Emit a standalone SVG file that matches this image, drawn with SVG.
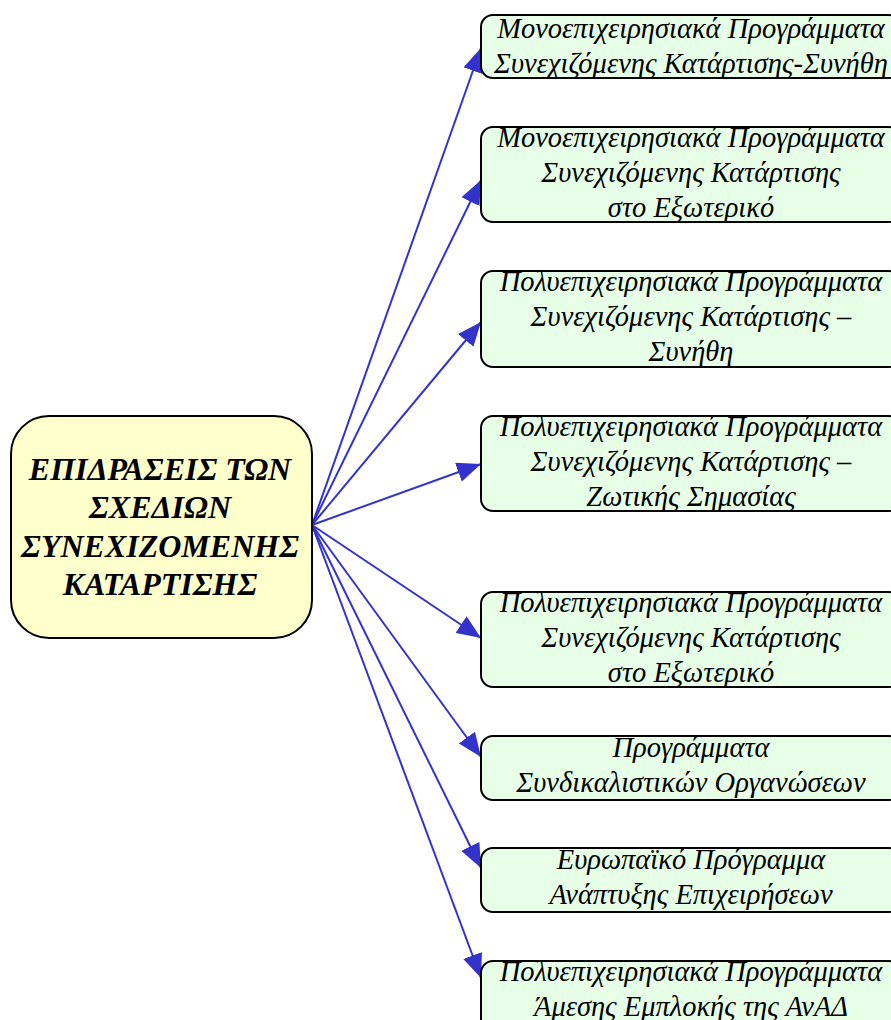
<svg xmlns="http://www.w3.org/2000/svg" width="891" height="1020" viewBox="0 0 891 1020">
<style>
.box{fill:#e6ffe6;stroke:#000;stroke-width:2}
.root{fill:#ffffcc;stroke:#000;stroke-width:2}
.t{font-family:"Liberation Serif","DejaVu Serif",serif;font-style:italic;font-size:28.5px;fill:#000;text-anchor:middle}
.rt{font-family:"Liberation Serif","DejaVu Serif",serif;font-style:italic;font-weight:bold;font-size:32px;fill:#000;text-anchor:middle}
.c{stroke:#3333cc;stroke-width:2;fill:none;marker-end:url(#ah)}
</style>
<defs>
<marker id="ah" markerWidth="24" markerHeight="20" refX="24" refY="10" orient="auto" markerUnits="userSpaceOnUse">
<path d="M0,0 L24,10 L0,20 z" fill="#3333cc"/>
</marker>
</defs>
<g id="connectors">
<line class="c" x1="312" y1="525" x2="481" y2="48"/>
<line class="c" x1="312" y1="525" x2="481" y2="180"/>
<line class="c" x1="312" y1="525" x2="481" y2="322"/>
<line class="c" x1="312" y1="525" x2="481" y2="464"/>
<line class="c" x1="312" y1="525" x2="481" y2="638"/>
<line class="c" x1="312" y1="525" x2="481" y2="757"/>
<line class="c" x1="312" y1="525" x2="481" y2="868"/>
<line class="c" x1="312" y1="525" x2="481" y2="978"/>
</g>
<g id="root">
<rect class="root" x="11" y="416" width="301" height="222" rx="38"/>
<text class="rt" x="160" y="480">ΕΠΙΔΡΑΣΕΙΣ ΤΩΝ</text>
<text class="rt" x="160" y="518">ΣΧΕΔΙΩΝ</text>
<text class="rt" x="160" y="557">ΣΥΝΕΧΙΖΟΜΕΝΗΣ</text>
<text class="rt" x="160" y="595">ΚΑΤΑΡΤΙΣΗΣ</text>
</g>
<g id="n1">
<rect class="box" x="481" y="15" width="420" height="63" rx="12"/>
<text class="t" x="691" y="38">Μονοεπιχειρησιακά Προγράμματα</text>
<text class="t" x="691" y="73">Συνεχιζόμενης Κατάρτισης-Συνήθη</text>
</g>
<g id="n2">
<rect class="box" x="481" y="127" width="420" height="95" rx="12"/>
<text class="t" x="691" y="147">Μονοεπιχειρησιακά Προγράμματα</text>
<text class="t" x="691" y="182">Συνεχιζόμενης Κατάρτισης</text>
<text class="t" x="691" y="217">στο Εξωτερικό</text>
</g>
<g id="n3">
<rect class="box" x="481" y="271" width="420" height="96" rx="12"/>
<text class="t" x="691" y="291">Πολυεπιχειρησιακά Προγράμματα</text>
<text class="t" x="691" y="326">Συνεχιζόμενης Κατάρτισης –</text>
<text class="t" x="691" y="361">Συνήθη</text>
</g>
<g id="n4">
<rect class="box" x="481" y="416" width="420" height="95" rx="12"/>
<text class="t" x="691" y="436">Πολυεπιχειρησιακά Προγράμματα</text>
<text class="t" x="691" y="471">Συνεχιζόμενης Κατάρτισης –</text>
<text class="t" x="691" y="506">Ζωτικής Σημασίας</text>
</g>
<g id="n5">
<rect class="box" x="481" y="592" width="420" height="95" rx="12"/>
<text class="t" x="691" y="612">Πολυεπιχειρησιακά Προγράμματα</text>
<text class="t" x="691" y="647">Συνεχιζόμενης Κατάρτισης</text>
<text class="t" x="691" y="682">στο Εξωτερικό</text>
</g>
<g id="n6">
<rect class="box" x="481" y="736" width="420" height="64" rx="12"/>
<text class="t" x="691" y="757">Προγράμματα</text>
<text class="t" x="691" y="792">Συνδικαλιστικών Οργανώσεων</text>
</g>
<g id="n7">
<rect class="box" x="481" y="848" width="420" height="64" rx="12"/>
<text class="t" x="691" y="869">Ευρωπαϊκό Πρόγραμμα</text>
<text class="t" x="691" y="904">Ανάπτυξης Επιχειρήσεων</text>
</g>
<g id="n8">
<rect class="box" x="481" y="961" width="420" height="80" rx="12"/>
<text class="t" x="691" y="981">Πολυεπιχειρησιακά Προγράμματα</text>
<text class="t" x="691" y="1016">Άμεσης Εμπλοκής της ΑνΑΔ</text>
</g>
</svg>
